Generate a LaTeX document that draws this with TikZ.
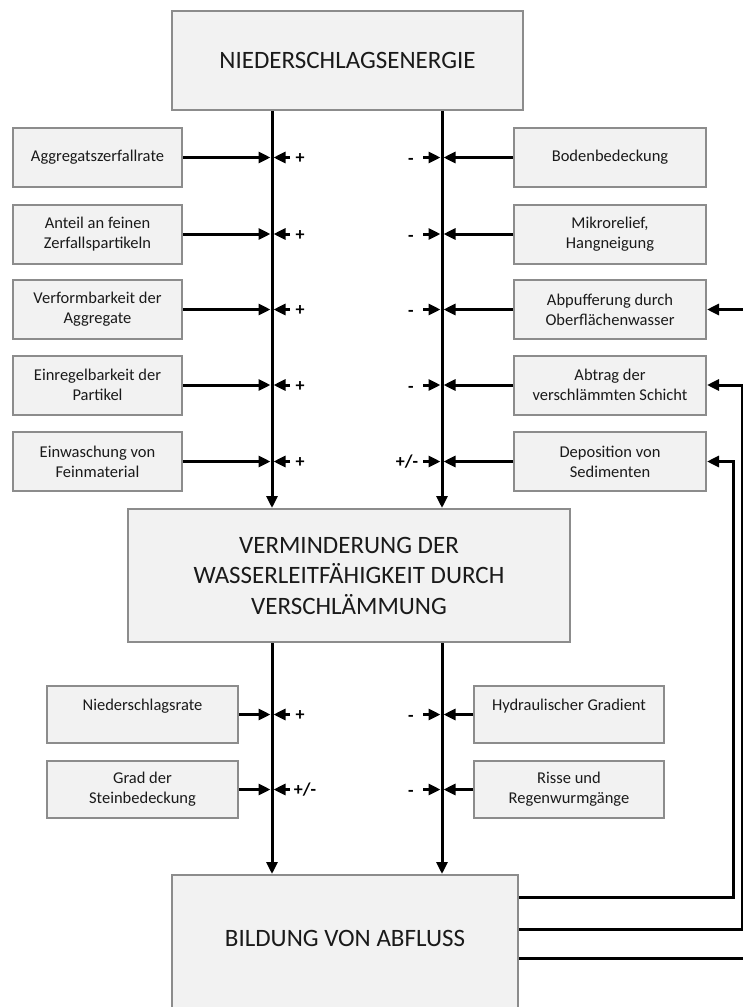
\documentclass[tikz,border=0pt]{standalone}
\usepackage{fontspec}
\setmainfont{Carlito}
\usetikzlibrary{arrows.meta,calc}
\definecolor{boxfill}{HTML}{F2F2F2}
\definecolor{boxline}{HTML}{8C8C8C}
\definecolor{txt}{HTML}{1A1A1A}
\begin{document}
\begin{tikzpicture}[x=1pt,y=-1pt,
  box/.style={draw=boxline, fill=boxfill, line width=2pt, inner sep=0pt, align=center, text=txt, font=\fontsize{16.5}{20}\selectfont},
  bigbox/.style={box, font=\fontsize{25}{30.5}\selectfont},
  bigtext/.style={inner sep=0pt, align=center, text=txt, font=\fontsize{25}{30.5}\selectfont},
  arr/.style={line width=3pt, -{Triangle[length=12pt,width=11pt]}},
  sign/.style={font=\fontsize{18}{20}\selectfont\bfseries, inner sep=0pt, anchor=base}]
\useasboundingbox (0,0) rectangle (743,1007);
\clip (0,0) rectangle (743,1007);

% main boxes
\node[bigbox, minimum width=351, minimum height=99] (top) at (347.5,60.5) {NIEDERSCHLAGSENERGIE};
\node[bigbox, minimum width=442, minimum height=133] (mid) at (349,575.5) {VERMINDERUNG DER\\WASSERLEITFÄHIGKEIT DURCH\\VERSCHLÄMMUNG};
\node[box, minimum width=346, minimum height=160, anchor=north] (bot) at (345,874) {};
\node[bigtext] (bottext) at (345,938) {BILDUNG VON ABFLUSS};

\coordinate (lx) at (272,0);
\coordinate (rx) at (442,0);

% factor boxes upper
\foreach \n/\y/\t in {1/157.5/{Aggregatszerfallrate},
                      2/234/{Anteil an feinen\\Zerfallspartikeln},
                      3/309.5/{Verformbarkeit der\\Aggregate},
                      4/385/{Einregelbarkeit der\\Partikel},
                      5/461.5/{Einwaschung von\\Feinmaterial}}{
  \node[box, minimum width=169, minimum height=59] (L\n) at (97.5,\y) {\t};
}
\foreach \n/\y/\t in {1/157.5/{Bodenbedeckung},
                      2/234/{Mikrorelief,\\Hangneigung},
                      3/309.5/{Abpufferung durch\\Oberflächenwasser},
                      4/385/{Abtrag der\\verschlämmten Schicht},
                      5/461.5/{Deposition von\\Sedimenten}}{
  \node[box, minimum width=192, minimum height=59] (R\n) at (610,\y) {\t};
}
% factor boxes lower
\node[box, minimum width=191, minimum height=57] (LL1) at (142.5,714.5) {Niederschlagsrate\\~};
\node[box, minimum width=191, minimum height=57] (LL2) at (142.5,789.5) {Grad der\\Steinbedeckung};
\node[box, minimum width=190, minimum height=57] (RL1) at (569,714.5) {Hydraulischer Gradient\\~};
\node[box, minimum width=190, minimum height=57] (RL2) at (569,789.5) {Risse und\\Regenwurmgänge};

% main vertical arrows
\draw[arr] (top.south -| lx) -- (mid.north -| lx);
\draw[arr] (top.south -| rx) -- (mid.north -| rx);
\draw[arr] (mid.south -| lx) -- (bot.north -| lx);
\draw[arr] (mid.south -| rx) -- (bot.north -| rx);

% left junctions
\foreach \b in {L1,L2,L3,L4,L5,LL1,LL2}{
  \coordinate (j\b) at (\b.east -| lx);
  \draw[arr, shorten >=1.5pt] (\b.east) -- (j\b);
  \draw[arr] ($(j\b)+(18,0)$) -- ($(j\b)+(1.5,0)$);
}
\foreach \b in {L1,L2,L3,L4,L5,LL1}{
  \node[sign] (s\b) at ($(j\b)+(28,6)$) {+};
}
\node[sign] (sLL2) at ($(jLL2)+(33,6)$) {+/-};

% right junctions
\foreach \b in {R1,R2,R3,R4,R5,RL1,RL2}{
  \coordinate (j\b) at (\b.west -| rx);
  \draw[arr, shorten >=1.5pt] (\b.west) -- (j\b);
  \draw[arr] ($(j\b)+(-19,0)$) -- ($(j\b)+(-1.5,0)$);
}
\foreach \b in {R1,R2,R3,R4,RL1,RL2}{
  \node[sign] (s\b) at ($(j\b)+(-31,7)$) {-};
}
\node[sign] (sR5) at ($(jR5)+(-35,6)$) {+/-};

% feedback connectors
\draw[arr] ($(bot.north east)+(0,23)$) -| ($(R5.east)+(26,0)$) -- (R5.east);
\draw[arr] ($(bot.north east)+(0,55)$) -| ($(R4.east)+(35,0)$) -- (R4.east);
\draw[arr] ($(bot.north east)+(0,84)$) -| ($(R3.east)+(50,0)$) -- (R3.east);
\end{tikzpicture}
\end{document}
